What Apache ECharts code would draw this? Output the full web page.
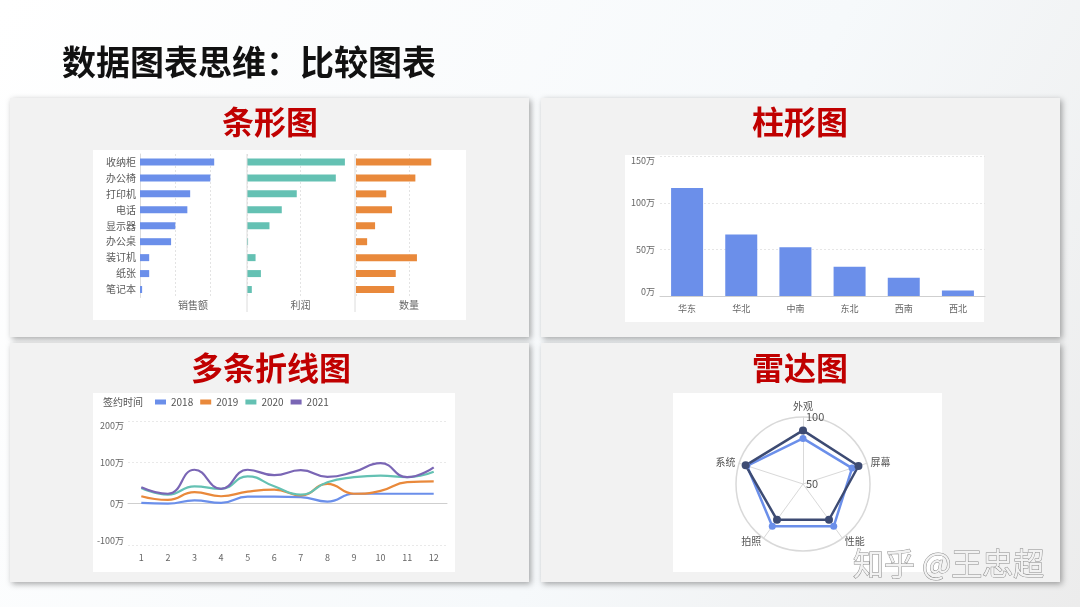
<!DOCTYPE html>
<html>
<head>
<meta charset="utf-8">
<script src="https://cdn.jsdelivr.net/npm/echarts@6/dist/echarts.min.js"></script>
<style>
html,body{margin:0;padding:0;background:#fff;}
#c{width:1080px;height:607px;}
</style>
</head>
<body>
<div id="c"></div>
<script>
// ---------- data ----------
const barCategories = ['收纳柜', '办公椅', '打印机', '电话', '显示器', '办公桌', '装订机', '纸张', '笔记本'];
const salesValues = [210, 199, 142, 134, 100, 88, 26, 26, 6];
const profitValues = [183, 166, 93, 65, 42, 2, 16, 26, 9];
const quantityValues = [142, 112, 57, 68, 36, 21, 115, 75, 72];
const barAxisNames = ['销售额', '利润', '数量'];

const regionCategories = ['华东', '华北', '中南', '东北', '西南', '西北'];
const regionValues = [116, 66, 52.5, 31.5, 19.5, 6];

const months = ['1', '2', '3', '4', '5', '6', '7', '8', '9', '10', '11', '12'];
const years = ['2018', '2019', '2020', '2021'];
const s2018 = [2, 0, 8, 2, 17, 17, 16, 5, 24, 24, 24, 24];
const s2019 = [18, 9, 28, 18, 29, 34, 20, 48, 24, 31, 52, 54];
const s2020 = [38, 22, 42, 36, 66, 42, 22, 52, 64, 68, 64, 77];
const s2021 = [40, 24, 82, 36, 82, 69, 81, 65, 77, 98, 64, 88];

const radarIndicators = ['外观', '系统', '拍照', '性能', '屏幕'];
const radarDark = [90, 95, 83, 83, 93.5];
const radarLight = [84, 94, 89, 89, 88.5];

// ---------- styles ----------
const FONT = '"Noto Sans CJK SC", "Noto Sans", sans-serif';
const BLUE = '#6b8fea', TEAL = '#64c1b3', ORANGE = '#e9893b', PURPLE = '#7a66b5', NAVY = '#3d4b73';
const RED = '#c00000';

const chart = echarts.init(document.getElementById('c'));

const panelStyle = {fill: '#f2f2f2', shadowBlur: 6, shadowOffsetX: 2, shadowOffsetY: 2, shadowColor: 'rgba(0,0,0,0.35)'};
function rect(x, y, w, h, style, z) {
  return {type: 'rect', z: z, shape: {x: x, y: y, width: w, height: h}, style: style, silent: true};
}
function text(t, x, y, size, color, weight, align) {
  return {type: 'text', z: 50, x: x, y: y, style: {text: t, fontSize: size, fill: color, fontWeight: weight, fontFamily: FONT, align: align || 'center', verticalAlign: 'middle'}};
}

const barGrids = [
  {left: 140, top: 154, width: 106, height: 143.5},
  {left: 247, top: 154, width: 107, height: 143.5},
  {left: 356, top: 154, width: 106, height: 143.5}
];
const barMax = [300, 200, 200];
const barColors = [BLUE, TEAL, ORANGE];
const barData = [salesValues, profitValues, quantityValues];

const grids = barGrids.concat([
  {left: 660, top: 156.5, width: 325, height: 139.5},
  {left: 128, top: 421, width: 319, height: 124}
]);

const xAxes = [], yAxes = [], series = [];
for (let i = 0; i < 3; i++) {
  xAxes.push({
    type: 'value', gridIndex: i, min: 0, max: barMax[i], interval: 100,
    axisLabel: {show: false}, axisTick: {show: false}, axisLine: {show: false},
    splitLine: {show: true, showMaxLine: false, lineStyle: {color: '#e3e3e3', type: [2, 2]}},
    name: barAxisNames[i], nameLocation: 'middle', nameGap: 3,
    nameTextStyle: {fontSize: 10, color: '#666', fontFamily: FONT}
  });
  yAxes.push({
    type: 'category', gridIndex: i, data: barCategories, inverse: true,
    axisTick: {show: false},
    axisLine: {show: i === 0, lineStyle: {color: '#dcdcdc'}},
    axisLabel: {show: i === 0, fontSize: 10, color: '#5a5a5a', margin: 4, fontFamily: FONT}
  });
  series.push({
    type: 'bar', xAxisIndex: i, yAxisIndex: i, data: barData[i], barWidth: 7,
    itemStyle: {color: barColors[i]}, silent: true
  });
}

// column chart
xAxes.push({
  type: 'category', gridIndex: 3, data: regionCategories,
  axisTick: {show: false}, axisLine: {lineStyle: {color: '#cfcfcf'}},
  axisLabel: {fontSize: 9, color: '#666', margin: 8, fontFamily: FONT}
});
yAxes.push({
  type: 'value', gridIndex: 3, min: 0, max: 150, interval: 50,
  axisLine: {show: false}, axisTick: {show: false},
  axisLabel: {fontSize: 9, color: '#666', margin: 5, formatter: '{value}万', fontFamily: FONT,
    verticalAlignMinLabel: 'bottom', verticalAlignMaxLabel: 'top'},
  splitLine: {lineStyle: {color: '#e6e6e6', type: [2, 2]}}
});
series.push({type: 'bar', xAxisIndex: 3, yAxisIndex: 3, data: regionValues, barWidth: 32, itemStyle: {color: BLUE}, silent: true});

// line chart
xAxes.push({
  type: 'category', gridIndex: 4, data: months, boundaryGap: true,
  axisTick: {show: false}, axisLine: {lineStyle: {color: '#cfcfcf'}},
  axisLabel: {fontSize: 9, color: '#666', margin: 8, fontFamily: FONT}
});
yAxes.push({
  type: 'value', gridIndex: 4, min: -100, max: 200, interval: 100,
  axisLine: {show: false}, axisTick: {show: false},
  axisLabel: {fontSize: 9, color: '#666', margin: 4, formatter: '{value}万', fontFamily: FONT,
    verticalAlignMinLabel: 'bottom', verticalAlignMaxLabel: 'top'},
  splitLine: {lineStyle: {color: '#e9e9e9', type: [2, 2]}}
});
const lineData = [s2018, s2019, s2020, s2021];
const lineColors = [BLUE, ORANGE, TEAL, PURPLE];
for (let i = 0; i < 4; i++) {
  series.push({
    type: 'line', name: years[i], xAxisIndex: 4, yAxisIndex: 4, data: lineData[i],
    smooth: true, showSymbol: false, symbol: 'none',
    lineStyle: {width: 2.2, color: lineColors[i]}, itemStyle: {color: lineColors[i]}, silent: true
  });
}

// radar
const radarInd = radarIndicators.map((n, i) => {
  const o = {name: n, min: 50, max: 100};
  if (i === 0) o.axisLabel = {show: true, fontSize: 11, color: '#555', margin: -3, align: 'left',
    padding: [8, 0, 0, 0], fontFamily: FONT};
  return o;
});
series.push({
  type: 'radar', radarIndex: 0, silent: true, z: 3,
  data: [
    {value: radarLight, name: 'B', symbol: 'circle', symbolSize: 7,
      lineStyle: {color: BLUE, width: 2.5}, itemStyle: {color: BLUE}},
    {value: radarDark, name: 'A', symbol: 'circle', symbolSize: 8,
      lineStyle: {color: NAVY, width: 2.5}, itemStyle: {color: NAVY}}
  ]
});

const graphic = [
  rect(10, 98, 519, 239, panelStyle, -20),
  rect(541, 98, 519, 239, panelStyle, -20),
  rect(10, 343, 519, 239, panelStyle, -20),
  rect(541, 343, 519, 239, panelStyle, -20),
  rect(93, 150, 373, 170, {fill: '#fff'}, -10),
  rect(625, 155, 359, 167, {fill: '#fff'}, -10),
  rect(93, 393, 362, 179, {fill: '#fff'}, -10),
  rect(673, 393, 269, 179, {fill: '#fff'}, -10),
  {type: 'line', z: 5, silent: true, shape: {x1: 247, y1: 154, x2: 247, y2: 312}, style: {stroke: '#dcdcdc', lineWidth: 1}},
  {type: 'line', z: 5, silent: true, shape: {x1: 355, y1: 154, x2: 355, y2: 312}, style: {stroke: '#dcdcdc', lineWidth: 1}},
  text('数据图表思维：比较图表', 62, 62, 34, '#111', 'bold', 'left'),
  text('条形图', 270, 122, 32, RED, 'bold'),
  text('柱形图', 800, 122, 32, RED, 'bold'),
  text('多条折线图', 271, 368, 32, RED, 'bold'),
  text('雷达图', 800, 368, 32, RED, 'bold'),
  {type: 'text', z: 100, x: 853, y: 563, style: {text: '知乎 @王忠超', fontSize: 31, fontFamily: FONT,
    fill: '#f2f2f2', stroke: '#8c8c8c', lineWidth: 1, align: 'left', verticalAlign: 'middle'}}
];

chart.setOption({
  animation: false,
  backgroundColor: new echarts.graphic.LinearGradient(0, 0, 1, 1, [
    {offset: 0, color: '#ffffff'}, {offset: 0.6, color: '#f6f9fb'}, {offset: 1, color: '#ececec'}
  ]),
  textStyle: {fontFamily: FONT},
  title: [{text: '签约时间', left: 103, top: 397, padding: 0,
    textStyle: {fontSize: 10, color: '#555', fontWeight: 'normal', fontFamily: FONT}}],
  legend: {
    data: years, left: 155, top: 397, padding: 0, itemWidth: 11, itemHeight: 5, itemGap: 7,
    icon: 'rect', textStyle: {fontSize: 10, color: '#555', fontFamily: FONT}, selectedMode: false
  },
  grid: grids,
  xAxis: xAxes,
  yAxis: yAxes,
  radar: {
    center: [803, 484], radius: 67, startAngle: 90, splitNumber: 1, shape: 'circle',
    indicator: radarInd, nameGap: 4,
    axisName: {color: '#555', fontSize: 10, fontFamily: FONT},
    splitLine: {lineStyle: {color: '#d9d9d9', width: 1.5}},
    splitArea: {show: false},
    axisLine: {lineStyle: {color: '#d9d9d9'}},
    axisTick: {show: false},
    axisLabel: {show: false}
  },
  graphic: graphic,
  series: series
});
</script>
</body>
</html>
